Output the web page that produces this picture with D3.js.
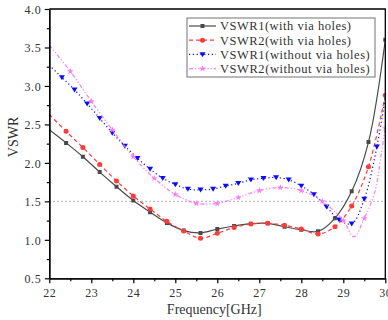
<!DOCTYPE html>
<html>
<head>
<meta charset="utf-8">
<script src="https://cdn.jsdelivr.net/npm/d3@7"></script>
<style>
  body { margin: 0; background: #fff; }
  svg { display: block; }
</style>
</head>
<body>
<div id="chart"></div>
<script>
// frequencies (GHz) and VSWR values
const freqWith = [22.0, 22.4, 22.8, 23.2, 23.6, 24.0, 24.4, 24.8, 25.2, 25.6, 26.0,
  26.4, 26.8, 27.2, 27.6, 28.0, 28.4, 28.8, 29.2, 29.6, 30.0];
const vswr1With = [2.43, 2.26, 2.08, 1.88, 1.69, 1.51, 1.36, 1.22, 1.12, 1.09, 1.14,
  1.18, 1.21, 1.215, 1.17, 1.13, 1.11, 1.28, 1.63, 2.27, 3.60];
const vswr2With = [2.63, 2.41, 2.20, 1.98, 1.765, 1.57, 1.40, 1.24, 1.115, 1.02, 1.085,
  1.16, 1.205, 1.215, 1.19, 1.14, 1.075, 1.17, 1.44, 1.95, 2.88];

const freqWithout1 = [22.0, 22.3, 22.6, 22.9, 23.2, 23.5, 23.8, 24.1, 24.4, 24.7, 25.0,
  25.3, 25.6, 25.9, 26.2, 26.5, 26.8, 27.1, 27.4, 27.7, 28.0, 28.3, 28.6, 28.9, 29.2,
  29.5, 29.8, 30.0];
const vswr1Without = [3.27, 3.11, 2.95, 2.77, 2.58, 2.39, 2.22, 2.06, 1.92, 1.80, 1.72,
  1.66, 1.65, 1.66, 1.70, 1.735, 1.78, 1.80, 1.81, 1.78, 1.70, 1.59, 1.43, 1.26, 1.21,
  1.53, 2.21, 2.85];

const freqWithout2 = [22.0, 22.5, 23.0, 23.5, 24.0, 24.5, 25.0, 25.5, 26.0, 26.5, 27.0,
  27.5, 28.0, 28.5, 29.0, 29.25, 29.5, 29.75, 29.9, 30.0];
const vswr2Without = [3.53, 3.19, 2.80, 2.43, 2.08, 1.80, 1.59, 1.475, 1.475, 1.55, 1.64,
  1.68, 1.64, 1.50, 1.25, 1.04, 1.28, 1.62, 2.10, 2.45];

const seriesNames = ["VSWR1(with via holes)", "VSWR2(with via holes)",
  "VSWR1(without via holes)", "VSWR2(without via holes)"];

const xTicks = [22, 23, 24, 25, 26, 27, 28, 29, 30];
const yTicks = [0.5, 1.0, 1.5, 2.0, 2.5, 3.0, 3.5, 4.0];
const refLevel = 1.5;

const series = [
  { name: seriesNames[0], f: freqWith, v: vswr1With, step: 0.4,
    color: "#4a4a4a", dash: null, marker: "square" },
  { name: seriesNames[1], f: freqWith, v: vswr2With, step: 0.4,
    color: "#ff3a3a", dash: "4,3", marker: "circle" },
  { name: seriesNames[2], f: freqWithout1, v: vswr1Without, step: 0.3,
    color: "#0a0aff", dash: "1.2,2.6", marker: "triangle" },
  { name: seriesNames[3], f: freqWithout2, v: vswr2Without, step: 0.5,
    color: "#ff78ff", dash: "4,2,1.2,2,1.2,2", marker: "star" }
];

const cfg = {
  width: 388, height: 320,
  margin: { left: 49.3, top: 9, right: 2.7, bottom: 41.7 }
};
const innerW = cfg.width - cfg.margin.left - cfg.margin.right;
const innerH = cfg.height - cfg.margin.top - cfg.margin.bottom;
const serif = "'Liberation Serif', 'Times New Roman', serif";

const svg = d3.select("#chart").append("svg")
  .attr("width", cfg.width)
  .attr("height", cfg.height);

const g = svg.append("g")
  .attr("transform", `translate(${cfg.margin.left},${cfg.margin.top})`);

const x = d3.scaleLinear().domain([22, 30]).range([0, innerW]);
const y = d3.scaleLinear().domain([0.5, 4.0]).range([innerH, 0]);

g.append("clipPath").attr("id", "plot-clip")
  .append("rect").attr("width", innerW).attr("height", innerH);

// dotted reference line at 1.5
g.append("line")
  .attr("x1", 0).attr("x2", innerW)
  .attr("y1", y(refLevel)).attr("y2", y(refLevel))
  .attr("stroke", "#9a9a9a").attr("stroke-width", 1)
  .attr("stroke-dasharray", "1.5,2.5");

const markerPath = (type) => {
  if (type === "square") return d3.symbol(d3.symbolSquare, 16)();
  if (type === "circle") return d3.symbol(d3.symbolCircle, 20)();
  if (type === "triangle") return "M-3,-2.2L3,-2.2L0,2.8Z";
  return d3.symbol(d3.symbolStar, 14)();
};

const line = d3.line()
  .x(d => x(d[0]))
  .y(d => y(d[1]))
  .curve(d3.curveCatmullRom.alpha(0.5));

const plot = g.append("g").attr("clip-path", "url(#plot-clip)");

series.forEach(s => {
  const pts = s.f.map((f, i) => [f, s.v[i]]);
  plot.append("path")
    .datum(pts)
    .attr("d", line)
    .attr("fill", "none")
    .attr("stroke", s.color)
    .attr("stroke-width", 1.2)
    .attr("stroke-dasharray", s.dash);

  // markers sit on the regular grid only, not at the start
  const marks = pts.filter(p => {
    const k = (p[0] - 22) / s.step;
    return p[0] > 22 && Math.abs(k - Math.round(k)) < 1e-6;
  });
  plot.selectAll(null)
    .data(marks)
    .enter()
    .append("path")
    .attr("d", markerPath(s.marker))
    .attr("transform", d => `translate(${x(d[0])},${y(d[1])})`)
    .attr("fill", s.color);
});

// -- axes --
const tickFont = (sel) => sel
  .attr("font-family", serif)
  .attr("font-size", 12)
  .attr("letter-spacing", 0.6)
  .attr("fill", "#333");

const xMinor = d3.range(22.5, 30, 1);
const yMinor = d3.range(0.75, 4, 0.5);

const xAxis = g.append("g")
  .attr("transform", `translate(0,${innerH})`)
  .call(d3.axisBottom(x).tickValues(xTicks).tickFormat(d3.format("d"))
    .tickSize(5).tickSizeOuter(0));
xAxis.selectAll("text").attr("y", 18.5).attr("dy", 0).call(tickFont);

const xMinorAxis = g.append("g")
  .attr("transform", `translate(0,${innerH})`)
  .call(d3.axisBottom(x).tickValues(xMinor).tickFormat("").tickSize(3).tickSizeOuter(0));

const yAxis = g.append("g")
  .call(d3.axisLeft(y).tickValues(yTicks).tickFormat(d3.format(".1f"))
    .tickSize(4.5).tickSizeOuter(0));
yAxis.selectAll("text").attr("x", -8).attr("dy", "0.35em").call(tickFont);

const yMinorAxis = g.append("g")
  .call(d3.axisLeft(y).tickValues(yMinor).tickFormat("").tickSize(2.5).tickSizeOuter(0));

[xAxis, xMinorAxis, yAxis, yMinorAxis].forEach(a => {
  a.selectAll("line").attr("stroke", "#000").attr("stroke-width", 1.2);
  a.select(".domain").attr("stroke", "#000").attr("stroke-width", 1.3);
});

// top and right box lines
g.append("path")
  .attr("d", `M0,0H${innerW}V${innerH}`)
  .attr("fill", "none")
  .attr("stroke", "#000")
  .attr("stroke-width", 1.3);

// axis titles
svg.append("text")
  .attr("x", cfg.margin.left + innerW / 2 - 3)
  .attr("y", 314)
  .attr("text-anchor", "middle")
  .attr("font-family", serif)
  .attr("font-size", 14)
  .attr("fill", "#333")
  .text("Frequency[GHz]");

svg.append("text")
  .attr("transform", "translate(18,137) rotate(-90)")
  .attr("text-anchor", "middle")
  .attr("font-family", serif)
  .attr("font-size", 14)
  .attr("fill", "#333")
  .text("VSWR");

// -- legend --
const legend = svg.append("g").attr("transform", "translate(187,18)");
legend.append("rect")
  .attr("width", 188).attr("height", 59)
  .attr("fill", "#fff")
  .attr("stroke", "#8a8a8a")
  .attr("stroke-width", 1.2);

series.forEach((s, i) => {
  const row = legend.append("g").attr("transform", `translate(0,${8 + i * 14.2})`);
  row.append("line")
    .attr("x1", 2).attr("x2", 29)
    .attr("stroke", s.color)
    .attr("stroke-width", 1.2)
    .attr("stroke-dasharray", s.dash);
  row.append("path")
    .attr("d", markerPath(s.marker))
    .attr("transform", "translate(15.5,0)")
    .attr("fill", s.color);
  row.append("text")
    .attr("x", 33)
    .attr("dy", "0.35em")
    .attr("font-family", serif)
    .attr("font-size", 12.5)
    .attr("textLength", s.name.length * 6.24)
    .attr("lengthAdjust", "spacing")
    .attr("fill", "#333")
    .text(s.name);
});
</script>
</body>
</html>
